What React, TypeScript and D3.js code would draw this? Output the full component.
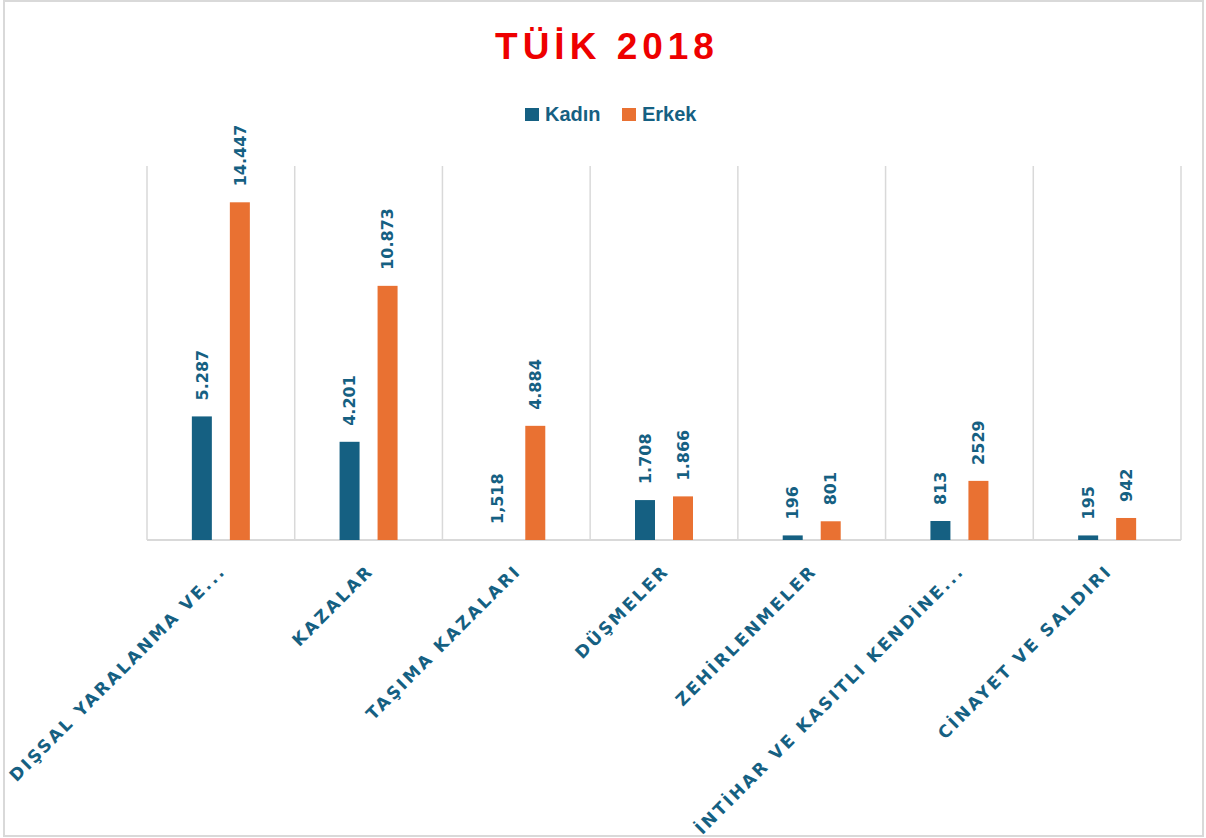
import { useEffect, useRef } from 'react';
import * as d3 from 'd3';

const categories = [
  'DIŞSAL YARALANMA VE...',
  'KAZALAR',
  'TAŞIMA KAZALARI',
  'DÜŞMELER',
  'ZEHİRLENMELER',
  'İNTİHAR VE KASITLI KENDİNE...',
  'CİNAYET VE SALDIRI',
];

// Kadın value for TAŞIMA KAZALARI was typed as text ("1,518"), so its bar is empty
const kadinValues = [5287, 4201, 0, 1708, 196, 813, 195];
const erkekValues = [14447, 10873, 4884, 1866, 801, 2529, 942];
const kadinLabels = ['5.287', '4.201', '1,518', '1.708', '196', '813', '195'];
const erkekLabels = ['14.447', '10.873', '4.884', '1.866', '801', '2529', '942'];

const seriesNames = ['Kadın', 'Erkek'];
const seriesColors = ['#156082', '#E97132'];

const W = 1206;
const H = 838;
const FONT = '"Liberation Sans", Arial, sans-serif';
const LABEL_FONT = '"DejaVu Sans", Verdana, sans-serif';
const TEXT = '#156082';

export default function App() {
  const svgRef = useRef<SVGSVGElement>(null);

  useEffect(() => {
    if (!svgRef.current) return;
    const svg = d3.select(svgRef.current);
    svg.selectAll('*').remove();

    const plot = { left: 147, right: 1181, top: 166, bottom: 540 };

    const x0 = d3.scaleBand<string>().domain(categories).range([plot.left, plot.right]).padding(0);
    const groupW = 58;
    const x1 = d3
      .scaleBand<string>()
      .domain(seriesNames)
      .range([0, groupW])
      .paddingInner(18 / 38)
      .paddingOuter(0);
    const y = d3.scaleLinear().domain([0, 16000]).range([plot.bottom, plot.top]);

    // ── Outer border ──
    svg
      .append('rect')
      .attr('x', 4)
      .attr('y', 1)
      .attr('width', W - 7)
      .attr('height', H - 3)
      .attr('fill', '#fff')
      .attr('stroke', '#d9d9d9')
      .attr('stroke-width', 2);

    // ── Category separators ──
    const sepX = categories.map((c) => x0(c)!).concat([plot.right]);
    svg
      .selectAll('line.grid')
      .data(sepX)
      .enter()
      .append('line')
      .attr('class', 'grid')
      .attr('x1', (d) => d)
      .attr('x2', (d) => d)
      .attr('y1', plot.top)
      .attr('y2', plot.bottom)
      .attr('stroke', '#d9d9d9')
      .attr('stroke-width', 1.5);

    // ── Baseline ──
    svg
      .append('line')
      .attr('x1', plot.left)
      .attr('x2', plot.right)
      .attr('y1', y(0))
      .attr('y2', y(0))
      .attr('stroke', '#d9d9d9')
      .attr('stroke-width', 2);

    // ── Bars + value labels ──
    const rows = categories.map((c, i) => ({
      cat: c,
      items: [
        { key: seriesNames[0], value: kadinValues[i], label: kadinLabels[i], color: seriesColors[0] },
        { key: seriesNames[1], value: erkekValues[i], label: erkekLabels[i], color: seriesColors[1] },
      ],
    }));

    const groups = svg
      .selectAll('g.cat')
      .data(rows)
      .enter()
      .append('g')
      .attr('class', 'cat')
      .attr('transform', (d) => `translate(${x0(d.cat)! + (x0.bandwidth() - groupW) / 2},0)`);

    groups
      .selectAll('rect.bar')
      .data((d) => d.items)
      .enter()
      .append('rect')
      .attr('class', 'bar')
      .attr('x', (d) => x1(d.key)!)
      .attr('y', (d) => y(d.value))
      .attr('width', x1.bandwidth())
      .attr('height', (d) => y(0) - y(d.value))
      .attr('fill', (d) => d.color);

    groups
      .selectAll('text.value')
      .data((d) => d.items)
      .enter()
      .append('text')
      .attr('class', 'value')
      .attr(
        'transform',
        (d) => `translate(${x1(d.key)! + x1.bandwidth() / 2},${y(d.value) - 16}) rotate(-90)`,
      )
      .attr('dy', '0.36em')
      .attr('text-anchor', 'start')
      .attr('fill', TEXT)
      .attr('font-family', LABEL_FONT)
      .attr('font-weight', 700)
      .attr('font-size', 16)
      .text((d) => d.label);

    // ── Category labels ──
    svg
      .selectAll('text.cat-label')
      .data(categories)
      .enter()
      .append('text')
      .attr('class', 'cat-label')
      .attr('transform', (d) => `translate(${x0(d)! + x0.bandwidth() / 2 + 6},${572}) rotate(-45)`)
      .attr('text-anchor', 'end')
      .attr('fill', TEXT)
      .attr('font-family', LABEL_FONT)
      .attr('font-weight', 700)
      .attr('font-size', 17)
      .attr('letter-spacing', 2.5)
      .text((d) => d);

    // ── Title ──
    svg
      .append('text')
      .attr('x', 607)
      .attr('y', 59)
      .attr('text-anchor', 'middle')
      .attr('fill', '#EE0000')
      .attr('font-family', FONT)
      .attr('font-weight', 700)
      .attr('font-size', 37)
      .attr('letter-spacing', 5)
      .text('TÜİK 2018');

    // ── Legend ──
    const legendX = [525, 622];
    const legend = svg
      .selectAll('g.legend')
      .data(seriesNames)
      .enter()
      .append('g')
      .attr('class', 'legend')
      .attr('transform', (_, i) => `translate(${legendX[i]},108)`);

    legend
      .append('rect')
      .attr('width', 14)
      .attr('height', 13)
      .attr('fill', (_, i) => seriesColors[i]);

    legend
      .append('text')
      .attr('x', 20)
      .attr('y', 13)
      .attr('fill', TEXT)
      .attr('font-family', FONT)
      .attr('font-weight', 700)
      .attr('font-size', 20)
      .text((d) => d);
  }, []);

  return (
    <div style={{ position: 'fixed', left: 0, top: 0, width: W, height: H, background: '#fff' }}>
      <svg ref={svgRef} width={W} height={H} />
    </div>
  );
}
